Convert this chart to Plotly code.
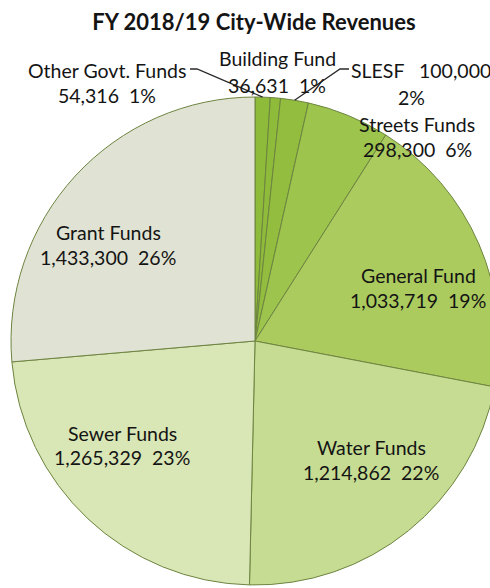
import math
import plotly.graph_objects as go

# Revenue sources, in pie order (clockwise from 12 o'clock)
labels = ["Other Govt. Funds", "Building Fund", "SLESF", "Streets Funds",
          "General Fund", "Water Funds", "Sewer Funds", "Grant Funds"]
values = [54316, 36631, 100000, 298300, 1033719, 1214862, 1265329, 1433300]
pct_text = ["1%", "1%", "2%", "6%", "19%", "22%", "23%", "26%"]
colors = ["#8fbb3a", "#8fbb3a", "#92bd3e", "#9dc44c",
          "#abcb5f", "#c6dc93", "#d9e6b5", "#e0e3d3"]

W, H = 510, 588
cx, cy, r = 255, 341, 244          # pie centre and radius in pixels
FONT = "Lato, 'Open Sans', sans-serif"


def px(x):
    return x / W


def py(y):
    return 1 - y / H


fig = go.Figure(go.Pie(
    labels=labels,
    values=values,
    sort=False,
    direction="clockwise",
    rotation=0,
    textinfo="none",
    hoverinfo="label+value+percent",
    showlegend=False,
    marker=dict(colors=colors, line=dict(color="#6d8440", width=1)),
    domain=dict(x=[px(cx - r), px(cx + r)], y=[py(cy + r), py(cy - r)]),
))

NB = "\u00a0"
# label placement: (centre x, line-1 y, line-2 y, line-2 centre x)
place = {
    "Other Govt. Funds": (107, 70, 95, 107),
    "Building Fund": (277, 58, 85, 277),
    "SLESF": (421, 70, 97, 411),
    "Streets Funds": (417, 125, 150, 417),
    "General Fund": (418, 275, 300, 418),
    "Water Funds": (371, 447, 472, 371),
    "Sewer Funds": (122, 433, 457, 122),
    "Grant Funds": (108, 232, 257, 108),
}

annotations = []
for lab, val, pct in zip(labels, values, pct_text):
    x1, y1, y2, x2 = place[lab]
    if lab == "SLESF":
        line1 = f"{lab}{NB * 3}{val:,}"
        line2 = pct
    else:
        line1 = lab
        line2 = f"{val:,}{NB * 2}{pct}"
    for txt, xx, yy in ((line1, x1, y1), (line2, x2, y2)):
        annotations.append(dict(
            text=txt, x=px(xx), y=py(yy), xref="paper", yref="paper",
            xanchor="center", yanchor="middle", showarrow=False,
            font=dict(family=FONT, size=19.5, color="#141414"),
        ))

# leader lines from outside labels to the rim at each slice's mid-angle
total = sum(values)
cum = 0
mid_angle = {}
for lab, val in zip(labels, values):
    mid_angle[lab] = (cum + val / 2) / total * 2 * math.pi
    cum += val


def rim(lab):
    a = mid_angle[lab]
    return cx + r * math.sin(a), cy - r * math.cos(a)


shapes = []
leaders = {
    "Other Govt. Funds": [(190, 69), (197, 69)],
    "SLESF": [(349, 69), (340, 69)],
}
for lab, pts in leaders.items():
    path_pts = pts + [rim(lab)]
    d = "M " + " L ".join(f"{px(a):.5f},{py(b):.5f}" for a, b in path_pts)
    shapes.append(dict(type="path", path=d, xref="paper", yref="paper",
                       line=dict(color="#2a2a2a", width=1.3)))

fig.update_layout(
    width=W, height=H,
    margin=dict(l=0, r=0, t=0, b=0),
    paper_bgcolor="white",
    plot_bgcolor="white",
    title=dict(text="<b>FY 2018/19 City-Wide Revenues</b>",
               x=px(254), y=py(22), xanchor="center", yanchor="middle",
               font=dict(family=FONT, size=22, color="#141414")),
    annotations=annotations,
    shapes=shapes,
)

fig.write_html("out.html")
